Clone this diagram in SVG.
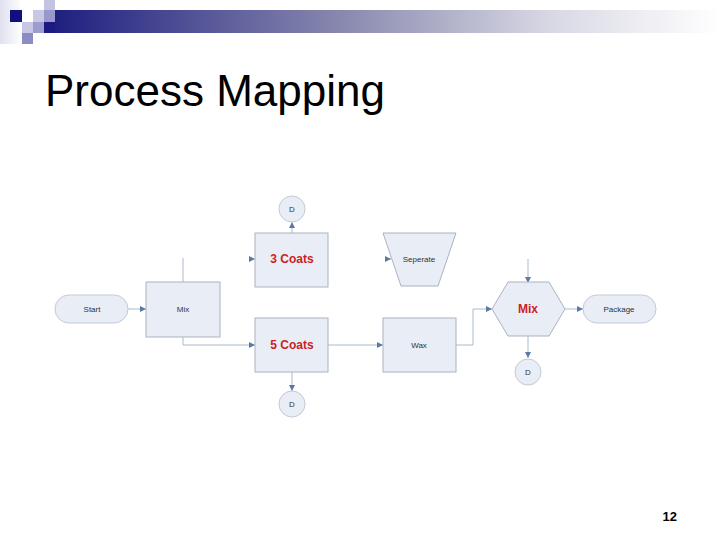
<svg xmlns="http://www.w3.org/2000/svg" width="720" height="540" viewBox="0 0 720 540">
<style>
.box{fill:#e8edf6;stroke:#aab3c2;stroke-width:1}
.term{fill:#e8edf6;stroke:#c4cad4;stroke-width:1}
.lbl{font-family:"Liberation Sans",Arial,sans-serif;font-size:8px;fill:#333;text-anchor:middle}
.red{font-family:"Liberation Sans",Arial,sans-serif;font-size:12px;font-weight:bold;fill:#cc1f1f;text-anchor:middle}
.con{fill:none;stroke:#a9bacd;stroke-width:1}
</style>
<defs>
<linearGradient id="bar" x1="0" y1="0" x2="1" y2="0">
<stop offset="0" stop-color="#1a1a7e"/>
<stop offset="0.45" stop-color="#8a8ab0"/>
<stop offset="0.75" stop-color="#d8d8e4"/>
<stop offset="1" stop-color="#ffffff"/>
</linearGradient>
<linearGradient id="lft" x1="0" y1="0" x2="1" y2="0">
<stop offset="0" stop-color="#e0e0f0"/>
<stop offset="1" stop-color="#ffffff"/>
</linearGradient>
<marker id="ah" viewBox="0 0 10 10" refX="10" refY="5" markerWidth="6" markerHeight="6" orient="auto" markerUnits="userSpaceOnUse">
<path d="M0,0 L10,5 L0,10 z" fill="#5a7aa6"/>
</marker>
</defs>
<g id="header">
<rect x="0" y="0" width="22" height="44" fill="url(#lft)"/>
<rect x="40" y="10" width="680" height="23" fill="url(#bar)"/>
<rect x="10" y="10" width="12" height="12" fill="#101080"/>
<rect x="22" y="22" width="11" height="11" fill="#c8c8e6"/>
<rect x="33" y="10" width="11" height="12" fill="#c8c8e6"/>
<rect x="33" y="22" width="11" height="11" fill="#9c9cd0"/>
<rect x="44" y="0" width="11" height="10" fill="#c4c4e2"/>
<rect x="44" y="10" width="11" height="12" fill="#9898cc"/>
<rect x="44" y="22" width="11" height="11" fill="#1a1a80"/>
<rect x="22" y="33" width="11" height="11" fill="#8c8cc4"/>
</g>
<text x="45" y="106" font-family="Liberation Sans, Arial, sans-serif" font-size="44" fill="#000">Process Mapping</text>
<text x="677" y="521" font-family="Liberation Sans, Arial, sans-serif" font-size="13" font-weight="bold" fill="#000" text-anchor="end">12</text>
<g id="connectors">
<line class="con" x1="128" y1="309" x2="146" y2="309" marker-end="url(#ah)"/>
<line class="con" x1="183" y1="282" x2="183" y2="258"/>
<line class="con" x1="249" y1="259" x2="255" y2="259" marker-end="url(#ah)"/>
<polyline class="con" points="183,337 183,345 255,345" marker-end="url(#ah)"/>
<line class="con" x1="292" y1="233" x2="292" y2="222" marker-end="url(#ah)"/>
<line class="con" x1="292" y1="372" x2="292" y2="391" marker-end="url(#ah)"/>
<line class="con" x1="328" y1="345" x2="383" y2="345" marker-end="url(#ah)"/>
<line class="con" x1="385" y1="259" x2="391" y2="259" marker-end="url(#ah)"/>
<polyline class="con" points="456,345 473,345 473,309 492,309" marker-end="url(#ah)"/>
<line class="con" x1="528" y1="259" x2="528" y2="283" marker-end="url(#ah)"/>
<line class="con" x1="565" y1="309" x2="583" y2="309" marker-end="url(#ah)"/>
<line class="con" x1="528" y1="336" x2="528" y2="358" marker-end="url(#ah)"/>
</g>
<g id="start">
<rect class="term" x="55" y="295" width="73" height="28" rx="14"/>
<text class="lbl" x="92" y="312">Start</text>
</g>
<g id="mix1">
<rect class="box" x="146" y="282" width="74" height="55"/>
<text class="lbl" x="183" y="312">Mix</text>
</g>
<g id="coats3">
<rect class="box" x="255" y="233" width="73" height="54"/>
<text class="red" x="292" y="263">3 Coats</text>
</g>
<g id="d1">
<circle class="term" cx="292" cy="209" r="13"/>
<text class="lbl" x="292" y="212">D</text>
</g>
<g id="coats5">
<rect class="box" x="255" y="318" width="73" height="54"/>
<text class="red" x="292" y="349">5 Coats</text>
</g>
<g id="d2">
<circle class="term" cx="292" cy="404" r="13"/>
<text class="lbl" x="292" y="407">D</text>
</g>
<g id="seperate">
<polygon class="box" points="383,233 456,233 438,286 401,286"/>
<text class="lbl" x="419" y="262">Seperate</text>
</g>
<g id="wax">
<rect class="box" x="383" y="318" width="73" height="54"/>
<text class="lbl" x="419" y="348">Wax</text>
</g>
<g id="mix2">
<polygon class="box" points="492,309 508,282 549,282 565,309 549,336 508,336"/>
<text class="red" x="528" y="313">Mix</text>
</g>
<g id="d3">
<circle class="term" cx="528" cy="372" r="13"/>
<text class="lbl" x="528" y="375">D</text>
</g>
<g id="package">
<rect class="term" x="583" y="295" width="73" height="28" rx="14"/>
<text class="lbl" x="619" y="312">Package</text>
</g>
</svg>
